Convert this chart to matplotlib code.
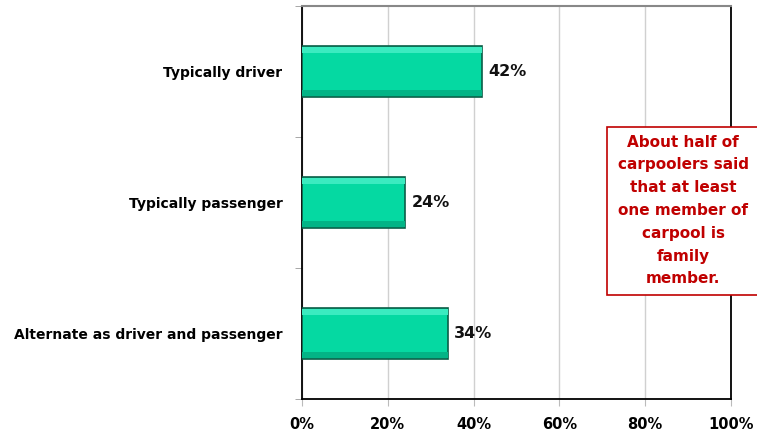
import matplotlib
matplotlib.use("Agg")
import matplotlib.pyplot as plt
from matplotlib.patches import Rectangle
import numpy as np

categories = ["Typically driver", "Typically passenger", "Alternate as driver and passenger"]
values = [42, 24, 34]
xticks = [0, 20, 40, 60, 80, 100]
xticklabels = ["0%", "20%", "40%", "60%", "80%", "100%"]
note = "About half of\ncarpoolers said\nthat at least\none member of\ncarpool is\nfamily\nmember."

plt.rcParams['font.family'] = ['DejaVu Sans']

W, H = 757, 433
fig = plt.figure(figsize=(W/100, H/100), dpi=100)
ax = fig.add_axes([302/W, 1-399/H, (731-302)/W, (399-6)/H])

y = np.arange(len(categories))
ax.barh(y, values, height=0.39, color='#05D9A2', edgecolor='#0B5E47', linewidth=1.2, zorder=3)
# subtle bevel: light strip at top, slightly darker strip at bottom
ax.barh(y - 0.165, values, height=0.04, color='#3BEBC0', linewidth=0, zorder=4)
ax.barh(y + 0.165, values, height=0.04, color='#03B486', linewidth=0, zorder=4)

for yi, v in zip(y, values):
    ax.text(v + 1.5, yi, f"{v}%", va='center', ha='left', fontsize=11.5, fontweight='bold', color='#111111')

ax.set_xlim(0, 100)
ax.set_ylim(len(categories) - 0.5, -0.5)
ax.set_xticks(xticks)
ax.set_xticklabels(xticklabels, fontsize=10.5, fontweight='bold')
ax.set_yticks(y)
ax.set_yticklabels(categories, fontsize=10, fontweight='bold')
ax.tick_params(axis='y', length=0, pad=14)
ax.set_yticks(np.arange(len(categories) + 1) - 0.5, minor=True)
ax.tick_params(axis='y', which='minor', length=5, color='#999999')
ax.tick_params(axis='x', length=5, color='#bbbbbb', pad=8)
ax.grid(axis='x', color='#d0d0d0', linewidth=1, zorder=0)
ax.set_axisbelow(True)

for s in ['left', 'bottom', 'right']:
    ax.spines[s].set_color('black')
    ax.spines[s].set_linewidth(1.3)
ax.spines['top'].set_color('#888888')
ax.spines['top'].set_linewidth(1.5)

# annotation box (extends past right edge of the image)
fig.patches.append(Rectangle((607/W, 1-295/H), 160/W, 168/H, transform=fig.transFigure,
                             facecolor='white', edgecolor='#C00000', linewidth=1.2, zorder=5))
fig.text(683/W, 1-210.5/H, note, ha='center', va='center', fontsize=11, fontweight='bold',
         color='#C00000', linespacing=1.65, zorder=6)

fig.savefig("out.png", dpi=100)
